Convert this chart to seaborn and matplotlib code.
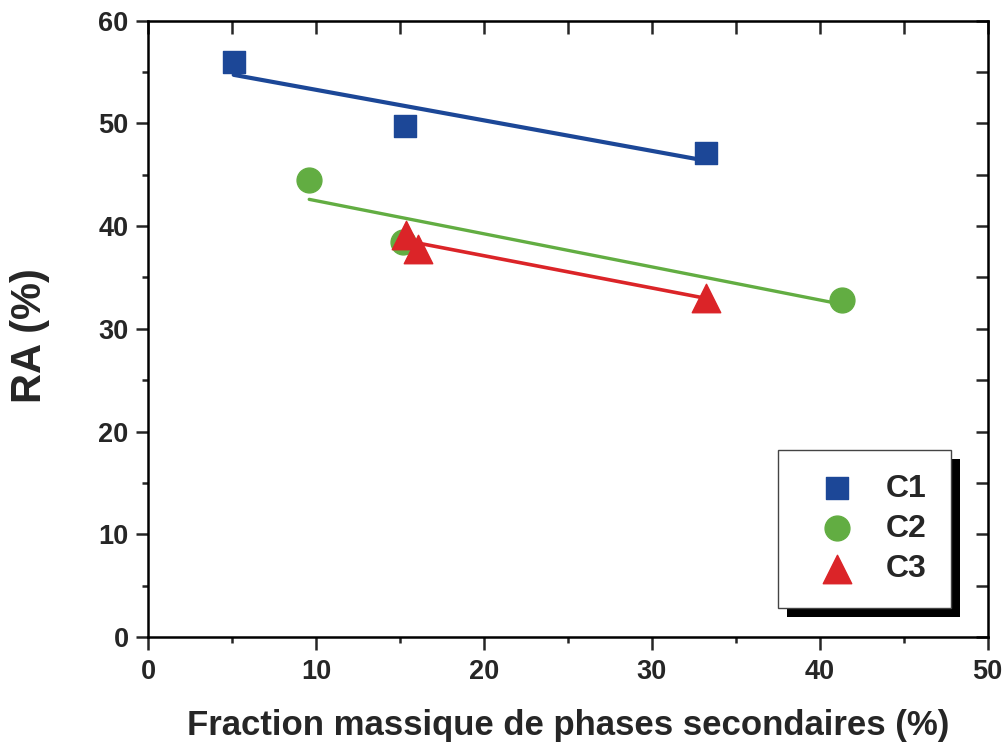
import pandas as pd
import matplotlib.pyplot as plt
import seaborn as sns
from matplotlib.patches import Rectangle
from matplotlib.ticker import MultipleLocator

sns.set_style('white')
plt.rcParams['font.family'] = ['Liberation Sans', 'DejaVu Sans']
plt.rcParams['font.weight'] = 'bold'

# valeurs
c1_x = [5.1, 15.3, 33.2]
c1_y = [56.0, 49.7, 47.1]
c2_x = [9.6, 15.2, 41.3]
c2_y = [44.5, 38.5, 32.8]
c3_x = [15.35, 16.1, 33.2]
c3_y = [39.1, 37.8, 33.0]
series = ['C1', 'C2', 'C3']

df = pd.DataFrame({
    'x': c1_x + c2_x + c3_x,
    'y': c1_y + c2_y + c3_y,
    'serie': ['C1'] * 3 + ['C2'] * 3 + ['C3'] * 3,
})

colors = {'C1': '#1c4797', 'C2': '#62ad42', 'C3': '#db2428'}
markers = {'C1': 's', 'C2': 'o', 'C3': '^'}
sizes = {'C1': 250, 'C2': 320, 'C3': 420}
lw = {'C1': 3.0, 'C2': 2.4, 'C3': 2.6}

fig = plt.figure(figsize=(10.05, 7.44), dpi=100)
ax = fig.add_axes([0.1473, 0.1438, 0.8354, 0.8284])

# droites de regression
for s in series:
    sub = df[df['serie'] == s]
    sns.regplot(data=sub, x='x', y='y', ax=ax, scatter=False, ci=None,
                truncate=True, color=colors[s], line_kws={'lw': lw[s], 'zorder': 2})

# points
for s in series:
    sub = df[df['serie'] == s]
    sns.scatterplot(data=sub, x='x', y='y', ax=ax, marker=markers[s], s=sizes[s],
                    color=colors[s], edgecolor=colors[s], linewidth=1,
                    label=s, zorder=3)

ax.set_xlim(0, 50)
ax.set_ylim(0, 60)
ax.xaxis.set_major_locator(MultipleLocator(10))
ax.xaxis.set_minor_locator(MultipleLocator(5))
ax.yaxis.set_major_locator(MultipleLocator(10))
ax.yaxis.set_minor_locator(MultipleLocator(5))
ax.tick_params(which='major', direction='out', length=9, width=1.8,
               labelsize=19.5, pad=5, bottom=True, left=True, top=False, right=False)
ax.tick_params(which='minor', direction='out', length=4.5, width=1.8,
               bottom=True, left=True, top=False, right=False)
ax.tick_params(axis='x', which='major', pad=7)
for lab in ax.get_xticklabels() + ax.get_yticklabels():
    lab.set_fontweight('bold')
for sp in ax.spines.values():
    sp.set_linewidth(1.8)
    sp.set_color('black')

# graduations interieures en haut et a droite
top = ax.secondary_xaxis('top')
top.xaxis.set_major_locator(MultipleLocator(5))
top.tick_params(direction='in', length=9, width=1.8, labeltop=False)
right = ax.secondary_yaxis('right')
right.yaxis.set_major_locator(MultipleLocator(5))
right.tick_params(direction='in', length=9, width=1.8, labelright=False)

ax.set_xlabel('Fraction massique de phases secondaires (%)', fontsize=25,
              fontweight='bold')
ax.set_ylabel('RA (%)', fontsize=30, fontweight='bold')
ax.xaxis.set_label_coords(0.5006, -0.117)
ax.yaxis.set_label_coords(-0.117, 0.489)

leg = ax.legend(loc='lower right', bbox_to_anchor=(0.956, 0.047), fontsize=23,
                frameon=True, fancybox=False, markerscale=1.0,
                handletextpad=0.42, borderpad=0.75, labelspacing=0.32,
                handlelength=2.2, borderaxespad=0)
leg.get_frame().set_edgecolor('#444444')
leg.get_frame().set_linewidth(1.0)
leg.get_frame().set_alpha(1)
for t in leg.get_texts():
    t.set_fontweight('bold')

# ombre noire decalee du cadre de legende
fig.canvas.draw()
bb = leg.get_window_extent().transformed(fig.transFigure.inverted())
dx, dy = 9 / 1005, 9 / 744
fig.patches.append(Rectangle((bb.x0 + dx, bb.y0 - dy), bb.width, bb.height,
                             transform=fig.transFigure, facecolor='black',
                             edgecolor='none', zorder=2))
ax.set_zorder(3)
ax.patch.set_alpha(0)

fig.savefig('out.png', dpi=100)
